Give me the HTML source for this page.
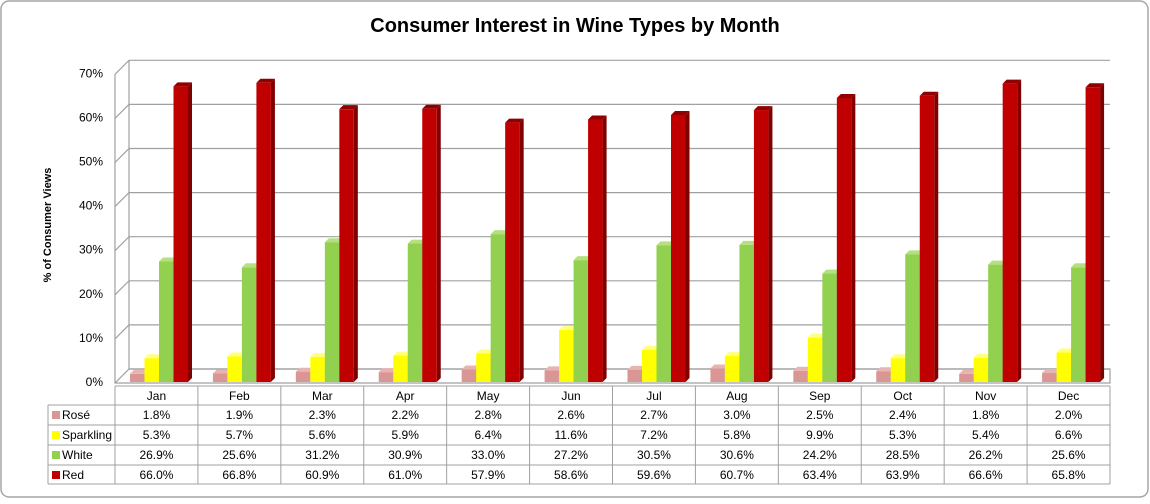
<!DOCTYPE html>
<html><head><meta charset="utf-8"><style>
body{margin:0;background:#fff;}
svg text{font-family:"Liberation Sans",sans-serif;}
</style></head><body>
<svg width="1150" height="499" xmlns="http://www.w3.org/2000/svg" id="chart">
<rect x="1" y="1" width="1147" height="496" rx="8" fill="#fff" stroke="#a6a6a6" stroke-width="1.5"/>
<text x="575" y="32" text-anchor="middle" font-size="20" font-weight="bold" fill="#000">Consumer Interest in Wine Types by Month</text>
<text transform="translate(51,225) rotate(-90)" text-anchor="middle" font-size="11" font-weight="bold">% of Consumer Views</text>
<g id="grid"></g><g id="bars"></g><g id="table"></g>
</svg>
<script>
const months=["Jan","Feb","Mar","Apr","May","Jun","Jul","Aug","Sep","Oct","Nov","Dec"];
const seriesNames=["Rosé","Sparkling","White","Red"];
const rose=[1.8,1.9,2.3,2.2,2.8,2.6,2.7,3.0,2.5,2.4,1.8,2.0];
const sparkling=[5.3,5.7,5.6,5.9,6.4,11.6,7.2,5.8,9.9,5.3,5.4,6.6];
const white=[26.9,25.6,31.2,30.9,33.0,27.2,30.5,30.6,24.2,28.5,26.2,25.6];
const red=[66.0,66.8,60.9,61.0,57.9,58.6,59.6,60.7,63.4,63.9,66.6,65.8];
const yTicks=[0,10,20,30,40,50,60,70];
const NS="http://www.w3.org/2000/svg";
const series=[rose,sparkling,white,red];
const colors=[["#d99694","#b07270","#e8b4b2"],["#ffff00","#c8c800","#ffff80"],["#92d050","#6aa030","#b4e080"],["#c00000","#800000","#900000"]];
const left=115,right=1110,D=14,colW=(right-left)/12;
const yFront=v=>383-v*4.41, yBar=v=>382-v*4.48;
function el(tag,attrs,parent){const e=document.createElementNS(NS,tag);for(const k in attrs)e.setAttribute(k,attrs[k]);parent.appendChild(e);return e;}
const grid=document.getElementById('grid');
yTicks.forEach(t=>{
 const y=yFront(t);
 const l=el('polyline',{points:`${left},${y} ${left+D},${y-D} ${right},${y-D}`,fill:"none",stroke:"#a0a0a0","stroke-width":1.2},grid);
 
 
 const tx=el('text',{x:left-12,y:y+3,"text-anchor":"end","font-size":12,fill:"#000"},grid);
 tx.textContent=t+"%";
 
 
});
const ax=el('polyline',{points:`${left+D},${yFront(70)-D} ${left+D},${yFront(0)-D} ${right},${yFront(0)-D} ${right},${yFront(0)} ${left},${yFront(0)} ${left},${yFront(70)}`,fill:"none",stroke:"#a0a0a0","stroke-width":1.2},grid);


const bars=document.getElementById('bars');
const bw=14.5,d=4;
months.forEach((m,i)=>{
 series.forEach((s,k)=>{
  const x=left+i*colW+15+k*bw, v=s[i], yt=yBar(v), yb=382;
  const g=el('g',{},bars);
  
  
  el('polygon',{points:`${x+bw},${yt} ${x+bw+d},${yt-d} ${x+bw+d},${yb-d} ${x+bw},${yb}`,fill:colors[k][1]},g);
  el('polygon',{points:`${x},${yt} ${x+d},${yt-d} ${x+bw+d},${yt-d} ${x+bw},${yt}`,fill:colors[k][2]},g);
  el('rect',{x:x,y:yt,width:bw,height:yb-yt,fill:colors[k][0]},g);
 });
});
const table=document.getElementById('table');
const top0=386,rowH=[19,20,20,20,19];
let ys=[top0];rowH.forEach(h=>ys.push(ys[ys.length-1]+h));
const tl=el('g',{stroke:"#a0a0a0","stroke-width":1,fill:"none"},table);


el('line',{x1:left,y1:ys[0],x2:right,y2:ys[0]},tl);
for(let r=1;r<ys.length;r++)el('line',{x1:48,y1:ys[r],x2:right,y2:ys[r]},tl);
el('line',{x1:48,y1:ys[1],x2:48,y2:ys[5]},tl);
for(let i=0;i<=12;i++)el('line',{x1:left+i*colW,y1:ys[0],x2:left+i*colW,y2:ys[5]},tl);
months.forEach((m,i)=>{
 const t=el('text',{x:left+(i+.5)*colW,y:ys[0]+14,"text-anchor":"middle","font-size":12},table);
 t.textContent=m;
 
 
});
series.forEach((s,k)=>{
 const y=ys[k+1];
 const sw=el('rect',{x:52,y:y+6,width:8,height:8,fill:colors[k][0]},table);
 
 
 const lb=el('text',{x:62,y:y+14,"font-size":12},table);
 lb.textContent=seriesNames[k];
 
 
 s.forEach((v,i)=>{
  const t=el('text',{x:left+(i+.5)*colW,y:y+14,"text-anchor":"middle","font-size":12},table);
  t.textContent=v.toFixed(1)+"%";
  
  
 });
});
</script>
</body></html>
